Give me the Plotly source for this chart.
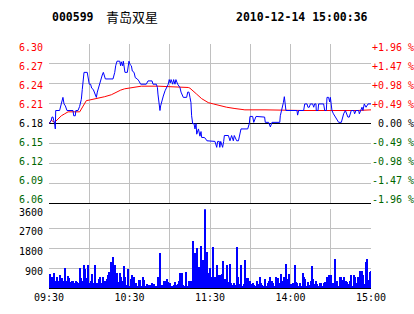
import plotly.graph_objects as go

PREV_CLOSE = 6.18

# ---- intraday price (minute index from 09:30, afternoon continues at 120) ----
price_minute = [
    0, 1.7, 2.2, 3.0, 3.5, 4.2, 4.7, 5.0, 7.9, 8.7, 9.7, 10.4, 11.2, 12.2, 13.4, 17.9,
    18.4, 19.6, 20.0, 21.6, 22.8, 24.1, 24.8, 25.6, 26.1, 28.5, 29.3, 30.0, 31.0, 31.8,
    33.0, 33.8, 35.3, 36.0, 37.3, 38.5, 39.7, 40.5, 41.5, 42.0, 47.7, 49.0, 49.7, 50.7,
    52.7, 53.4, 53.9, 54.9, 55.4, 56.1, 56.6, 58.4, 58.9, 59.6, 60.4, 61.4, 62.1, 63.4,
    64.3, 65.8, 67.0, 68.3, 72.5, 73.8, 76.8, 77.5, 80.0,
    80.8, 81.2, 81.9, 82.7, 83.2, 84.0, 85.2, 86.5, 87.7, 88.9, 89.6, 90.4, 91.0, 92.2,
    92.9, 93.9, 94.6, 95.9, 97.6, 98.4, 100.1, 102.6, 103.4, 104.3, 105.1, 105.8, 106.3,
    107.1, 108.1, 108.8, 109.6, 110.1, 111.4, 112.5, 113.3, 113.8, 115.6, 116.4, 117.7,
    123.7, 125.0, 125.7, 126.9, 127.3, 128.0, 129.4, 130.2, 130.7, 133.7, 134.9, 136.1,
    137.4, 138.1, 139.9, 141.2, 141.9, 143.1, 148.1, 149.3, 149.8, 151.8, 152.6, 153.5,
    154.3, 160.7, 161.2, 163.7, 165.0, 166.2, 172.0, 172.4, 173.7, 174.7, 175.4, 176.1,
    176.6, 184.8, 185.3, 186.1, 189.8, 190.6, 192.3, 193.0, 194.0, 194.8, 196.5, 197.3,
    198.0, 199.0, 199.2, 200.5, 201.0, 204.7, 205.5, 206.7, 207.2, 208.4, 209.2, 209.7,
    210.4, 210.9, 212.0, 213.4, 214.6, 215.9, 217.9, 218.9, 219.6, 220.9, 222.0, 222.8,
    223.8, 224.6, 225.3, 227.1, 227.8, 228.8, 230.8, 231.3, 232.3, 233.3, 234.0, 235.0,
    236.3, 237.8, 240.0,
]
price_value = [
    6.180, 6.185, 6.190, 6.190, 6.185, 6.180, 6.172, 6.200, 6.200, 6.207, 6.213, 6.220,
    6.210, 6.207, 6.200, 6.200, 6.192, 6.192, 6.200, 6.200, 6.206, 6.217, 6.232, 6.245,
    6.258, 6.258, 6.250, 6.240, 6.240, 6.234, 6.232, 6.228, 6.220, 6.228, 6.238, 6.247,
    6.254, 6.258, 6.250, 6.248, 6.248, 6.258, 6.268, 6.275, 6.275, 6.268, 6.274, 6.268,
    6.275, 6.265, 6.258, 6.258, 6.268, 6.275, 6.270, 6.268, 6.260, 6.258, 6.250, 6.248,
    6.245, 6.240, 6.240, 6.245, 6.245, 6.240, 6.240,
    6.235, 6.225, 6.212, 6.200, 6.207, 6.215, 6.222, 6.230, 6.235, 6.240, 6.247, 6.242,
    6.247, 6.240, 6.247, 6.240, 6.247, 6.240, 6.235, 6.228, 6.220, 6.220, 6.228, 6.228,
    6.220, 6.212, 6.192, 6.180, 6.180, 6.172, 6.180, 6.164, 6.172, 6.161, 6.168, 6.159,
    6.159, 6.158, 6.154, 6.153, 6.144, 6.153, 6.153, 6.144, 6.153, 6.144, 6.153, 6.162,
    6.162, 6.154, 6.162, 6.154, 6.162, 6.154, 6.154, 6.162, 6.172, 6.172, 6.180, 6.191,
    6.191, 6.182, 6.187, 6.191, 6.190, 6.182, 6.182, 6.175, 6.182, 6.182, 6.192, 6.202,
    6.212, 6.221, 6.210, 6.200, 6.200, 6.193, 6.200, 6.200, 6.210, 6.210, 6.205, 6.205,
    6.210, 6.210, 6.205, 6.210, 6.210, 6.200, 6.200, 6.210, 6.210, 6.200, 6.200, 6.220,
    6.220, 6.213, 6.220, 6.210, 6.200, 6.195, 6.190, 6.185, 6.182, 6.182, 6.190, 6.195,
    6.200, 6.195, 6.190, 6.190, 6.195, 6.200, 6.200, 6.195, 6.200, 6.200, 6.195, 6.200,
    6.205, 6.200, 6.210, 6.205, 6.210, 6.210,
]

# ---- average price line ----
avg_minute = [0, 1.7, 4.2, 6.7, 9.2, 11.7, 14.2, 22.9, 24.1, 26.1, 27.8, 30.3, 35.3, 41.5,
              46.5, 50.2, 53.4, 56.4, 63.8, 68.8, 81.2, 95.0, 103.8, 105.0, 107.6, 110.0,
              113.8, 116.3, 118.7, 122.5, 127.4, 132.4, 138.6, 142.3, 146.0, 161.0, 190.0,
              230.0, 240.0]
avg_value = [6.180, 6.185, 6.182, 6.187, 6.192, 6.195, 6.198, 6.198, 6.202, 6.210, 6.215,
             6.216, 6.218, 6.221, 6.224, 6.228, 6.231, 6.233, 6.235, 6.237, 6.237, 6.236,
             6.235, 6.234, 6.230, 6.225, 6.218, 6.215, 6.212, 6.210, 6.207, 6.205, 6.203,
             6.202, 6.201, 6.201, 6.200, 6.200, 6.201]

# ---- per-minute volume (hands) ----
volume = [
    326, 636, 481, 512, 667, 326, 481, 326, 558, 295, 434, 295, 899, 295, 527, 450,
    248, 295, 326, 233, 295, 248, 233, 899, 434, 326, 1023, 868, 434, 1023, 202, 326,
    636, 202, 1023, 171, 202, 403, 512, 202, 512, 171, 326, 403, 558, 713, 1178, 248,
    1411, 1023, 295, 667, 248, 667, 512, 295, 977, 512, 124, 868, 93, 403, 589, 481,
    202, 202, 93, 372, 372, 47, 481, 357, 47, 171, 140, 140, 93, 233, 171, 93,
    93, 481, 140, 1597, 140, 140, 295, 326, 403, 248, 202, 93, 93, 124, 248, 124,
    171, 295, 667, 667, 140, 93, 713, 93, 295, 202, 295, 2155, 357, 1597, 1798, 605,
    946, 1907, 558, 1256, 3581, 326, 1643, 667, 899, 481, 1876, 171, 512, 1023, 403, 558,
    558, 636, 1225, 403, 326, 1023, 248, 1070, 202, 140, 202, 140, 1876, 512, 171, 1023,
    93, 171, 1287, 434, 434, 295, 326, 171, 202, 140, 93, 326, 171, 481, 202, 124,
    93, 403, 93, 202, 295, 512, 295, 202, 93, 481, 357, 434, 202, 605, 295, 481,
    403, 1101, 403, 605, 171, 171, 202, 1023, 248, 202, 93, 202, 93, 667, 481, 403,
    93, 248, 140, 326, 977, 403, 171, 295, 171, 93, 202, 202, 93, 202, 248, 512,
    295, 558, 558, 171, 202, 1302, 171, 295, 93, 481, 481, 357, 481, 295, 248, 171,
    295, 558, 93, 589, 481, 202, 512, 171, 744, 744, 558, 171, 1163, 1302, 357, 698,
    744,
]
volume_minute = list(range(len(volume)))

# ---- axis tick labels ----
pct_ticks = [1.96, 1.47, 0.98, 0.49, 0.0, -0.49, -0.98, -1.47, -1.96]
price_labels = ["6.30", "6.27", "6.24", "6.21", "6.18", "6.15", "6.12", "6.09", "6.06"]
pct_labels = ["+1.96 %", "+1.47 %", "+0.98 %", "+0.49 %", "0.00 %",
              "-0.49 %", "-0.98 %", "-1.47 %", "-1.96 %"]
time_ticks = [0, 30, 60, 90, 120, 150, 180, 210, 240]
time_labels = ["09:30", "", "10:30", "", "11:30", "", "14:00", "", "15:00"]
vol_ticks = [900, 1800, 2700, 3600]
vol_labels = ["900", "1800", "2700", "3600"]

RED = "#ff0000"
GREEN = "#006600"
BLUE = "#0000ff"
GRID = "#c0c0c0"
MONO = "DejaVu Sans Mono"

ML, MR, MT, MB = 49, 43, 44, 26
W, H = 414, 314
PW = W - ML - MR
PH = H - MT - MB


def px_x(px):
    return (px - ML) / PW


def px_y(py):
    return (H - MB - py) / PH


def colour_for(p):
    return RED if p > 0 else (GREEN if p < 0 else "#000000")


price_ticks = [PREV_CLOSE * (1 + p / 100) for p in pct_ticks]
lo = PREV_CLOSE * (1 - 1.96 / 100)
hi = PREV_CLOSE * (1 + 1.96 / 100)

fig = go.Figure()
fig.add_trace(go.Scatter(x=avg_minute, y=avg_value, mode="lines",
                         line=dict(color=RED, width=1), xaxis="x", yaxis="y", hoverinfo="skip"))
fig.add_trace(go.Scatter(x=price_minute, y=price_value, mode="lines",
                         line=dict(color=BLUE, width=1), xaxis="x", yaxis="y", hoverinfo="skip"))
fig.add_trace(go.Scatter(x=price_minute, y=[(v / PREV_CLOSE - 1) * 100 for v in price_value],
                         mode="lines", line=dict(color="rgba(0,0,0,0)", width=0),
                         xaxis="x", yaxis="y3", hoverinfo="skip"))
fig.add_trace(go.Bar(x=volume_minute, y=volume, width=0.75, marker=dict(color=BLUE, line=dict(width=0)),
                     xaxis="x2", yaxis="y2", hoverinfo="skip"))

fig.update_layout(
    width=W, height=H,
    margin=dict(l=ML, r=MR, t=MT, b=MB, autoexpand=False),
    paper_bgcolor="white", plot_bgcolor="white",
    showlegend=False,
    font=dict(family=MONO, size=10, color="#000000"),
    xaxis=dict(domain=[0, 1], range=[0, 240], anchor="y", tickvals=time_ticks,
               showticklabels=False, showgrid=True, gridcolor=GRID, gridwidth=1,
               showline=True, linecolor="#000000", linewidth=1, zeroline=False, ticks="",
               automargin=False),
    yaxis=dict(domain=[0.347, 1], range=[lo, hi], tickvals=price_ticks, showticklabels=False,
               showgrid=True, gridcolor=GRID, gridwidth=1, zeroline=False, ticks="",
               showline=False, automargin=False),
    yaxis3=dict(overlaying="y", side="right", anchor="x", range=[-1.96, 1.96],
                tickvals=pct_ticks, showticklabels=False, showgrid=False,
                zeroline=True, zerolinecolor="#000000", zerolinewidth=1, ticks="",
                automargin=False),
    xaxis2=dict(domain=[0, 1], range=[0, 240], anchor="y2", tickvals=time_ticks,
                ticktext=time_labels, showgrid=True, gridcolor=GRID, gridwidth=1,
                showline=True, linecolor="#000000", linewidth=1, zeroline=False, ticks="",
                tickfont=dict(family=MONO, size=10), automargin=False),
    yaxis2=dict(domain=[0, 0.3225], range=[0, 3600], tickvals=vol_ticks, showticklabels=False,
                showgrid=True, gridcolor=GRID, gridwidth=1, zeroline=False, ticks="",
                automargin=False),
    bargap=0,
)

# price labels: the reference spaces them slightly tighter than the gridlines
n = len(pct_ticks)
for i, (pv, pc, lab, plab) in enumerate(zip(price_ticks, pct_ticks, price_labels, pct_labels)):
    shift = -3.3 + 7.1 * i / (n - 1)
    col = colour_for(pc)
    fig.add_annotation(text=lab, xref="paper", yref="y", x=px_x(45), y=pv, yshift=shift,
                       xanchor="right", yanchor="middle", showarrow=False,
                       font=dict(family=MONO, size=10, color=col))
    fig.add_annotation(text=plab, xref="paper", yref="y3", x=px_x(415.5), y=pc, yshift=shift,
                       xanchor="right", yanchor="middle", showarrow=False,
                       font=dict(family=MONO, size=10, color=col))

for v, lab in zip(vol_ticks, vol_labels):
    fig.add_annotation(text=lab, xref="paper", yref="y2", x=px_x(45), y=v, yshift=-3,
                       xanchor="right", yanchor="middle", showarrow=False,
                       font=dict(family=MONO, size=10, color="#000000"))

hy = px_y(16.5)
fig.add_annotation(text="<b>000599</b>", xref="paper", yref="paper",
                   x=px_x(50), y=hy, xanchor="left", yanchor="middle",
                   showarrow=False, font=dict(family=MONO, size=11.5, color="#000000"))
fig.add_annotation(text="青岛双星", xref="paper", yref="paper",
                   x=px_x(104), y=hy, xanchor="left", yanchor="middle",
                   showarrow=False, font=dict(family="Noto Sans CJK SC", size=13, color="#000000"))
fig.add_annotation(text="<b>2010-12-14 15:00:36</b>", xref="paper", yref="paper",
                   x=px_x(370), y=hy, xanchor="right", yanchor="middle",
                   showarrow=False, font=dict(family=MONO, size=11.5, color="#000000"))

fig.write_html("out.html")
